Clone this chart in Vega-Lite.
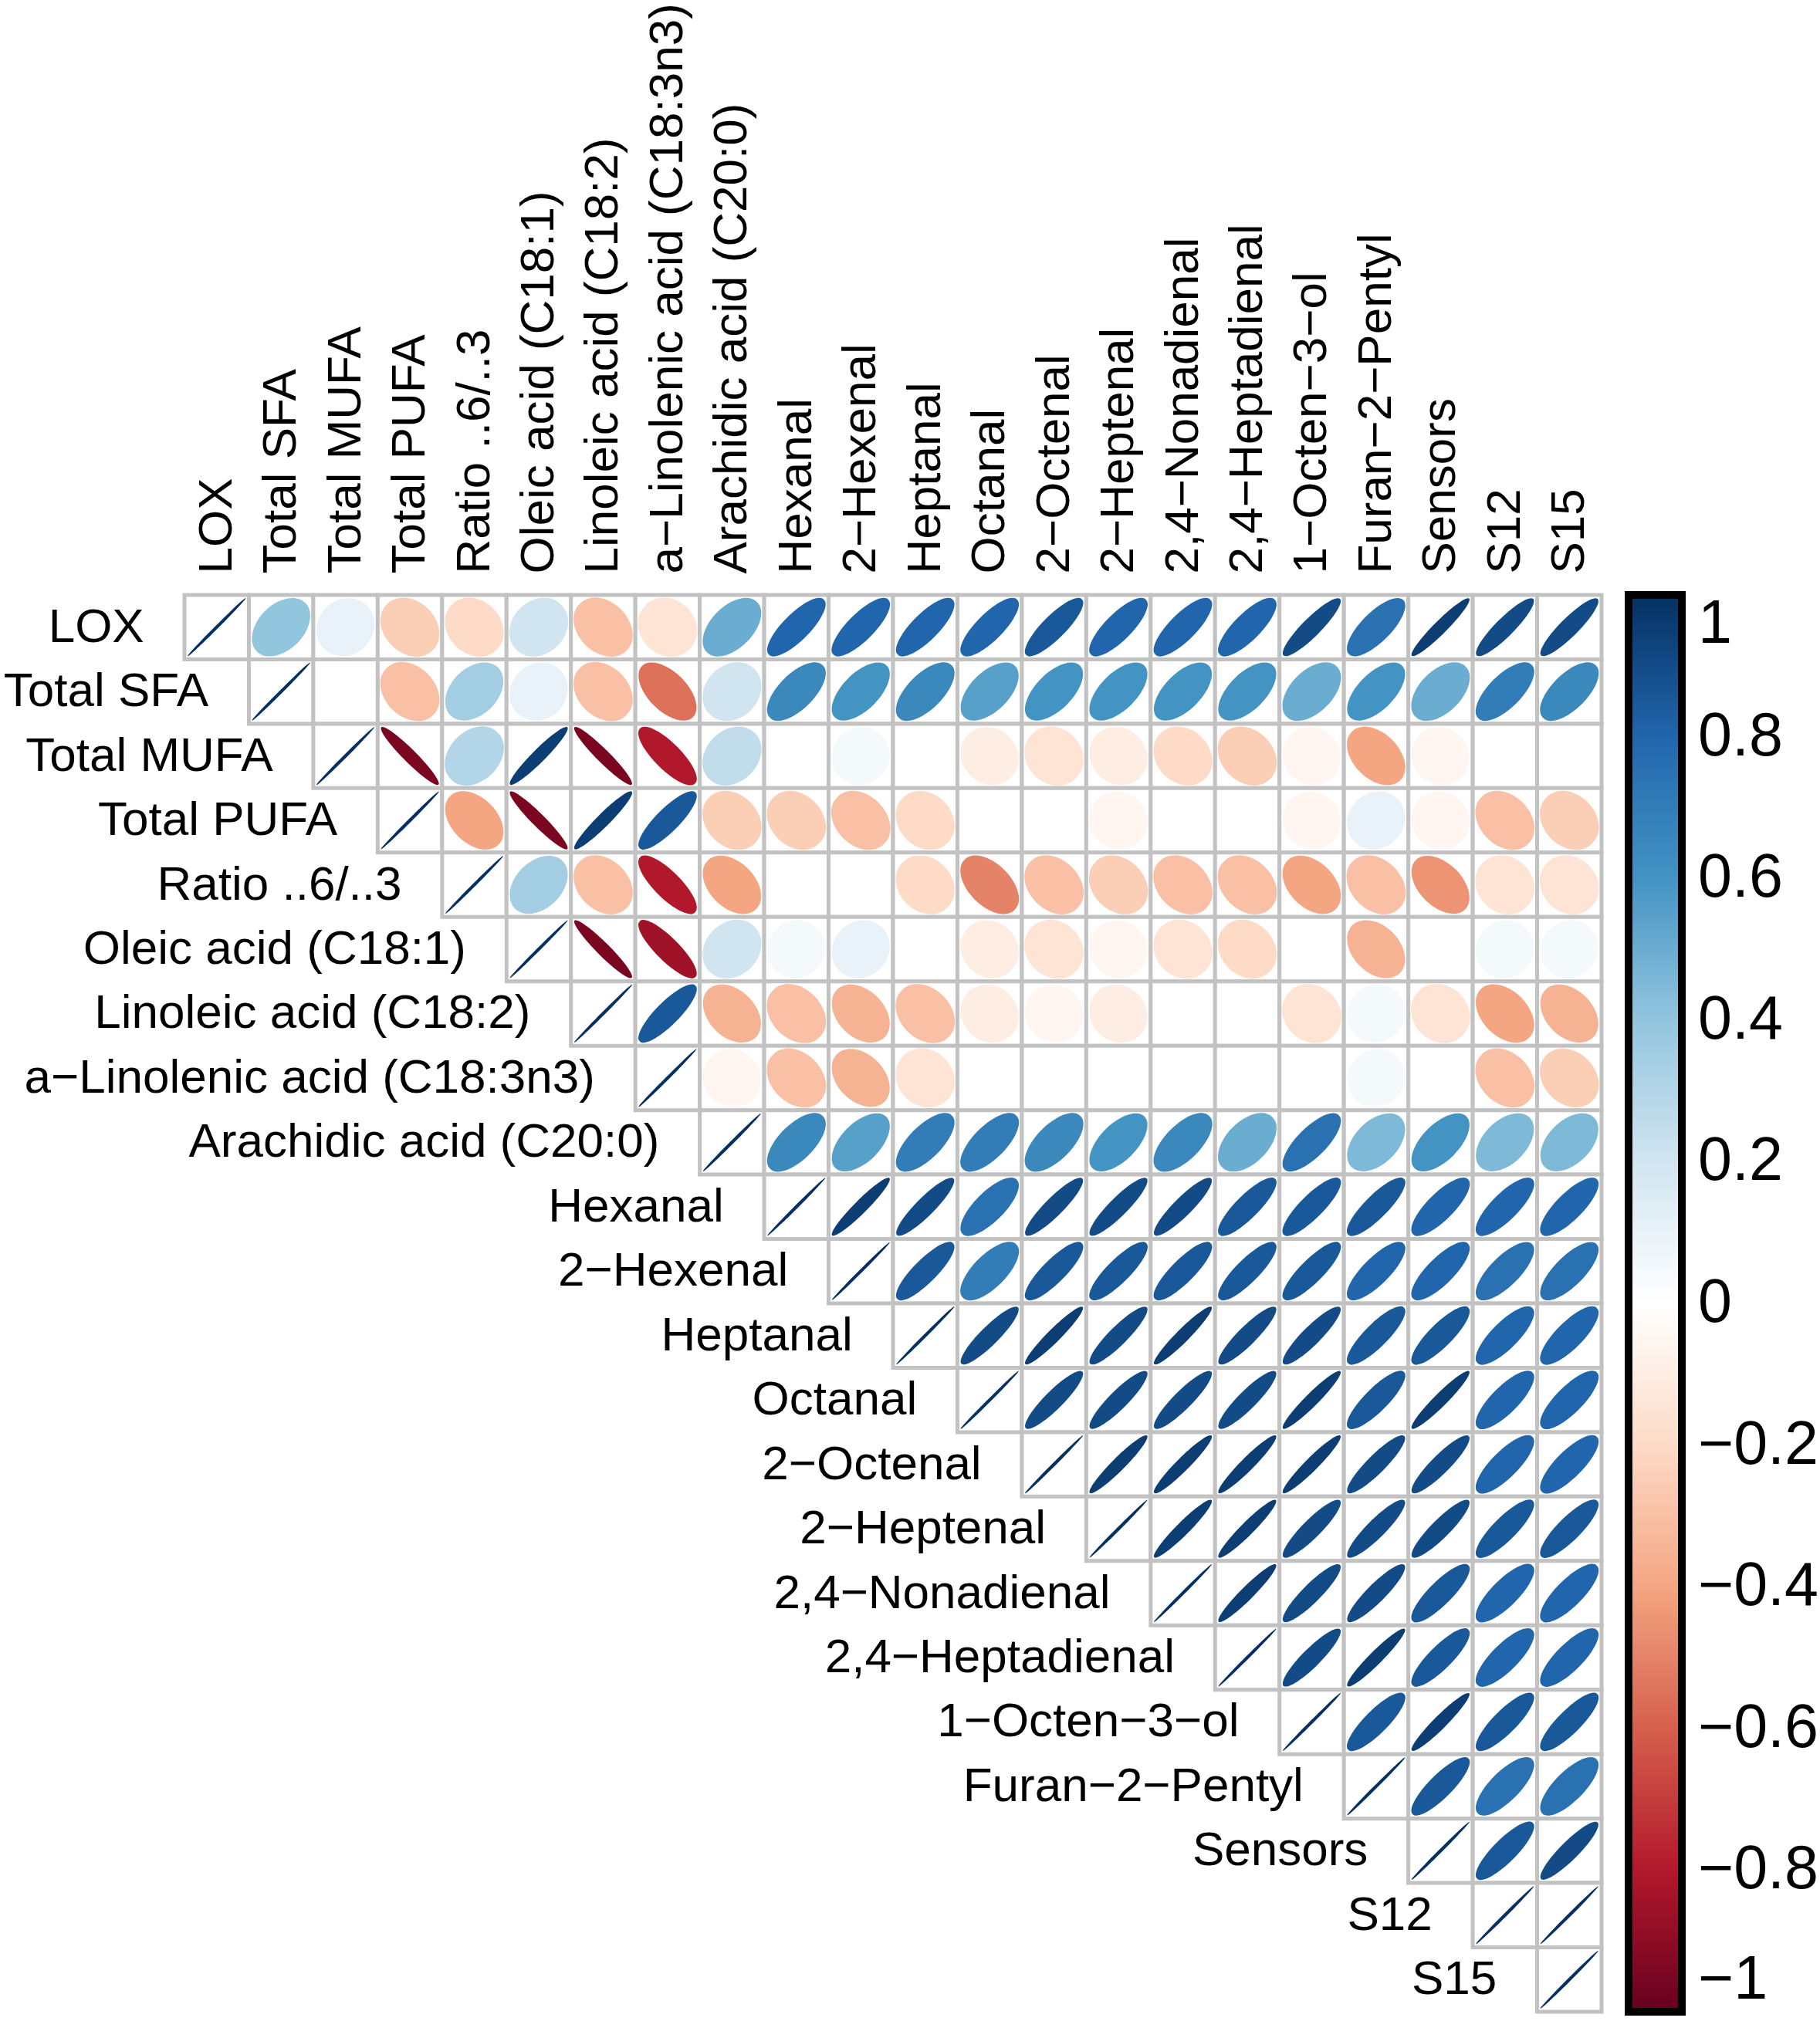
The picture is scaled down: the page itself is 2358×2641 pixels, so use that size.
{
"$schema": "https://vega.github.io/schema/vega-lite/v6.json",
"width": 1836, "height": 1836,
"autosize": {"type": "none"},
"padding": {"left": 239, "top": 771, "right": 283, "bottom": 34},
"background": "white",
"config": {"view": {"stroke": null}, "font": "Liberation Sans"},
"data": {"values": [
{"a":"LOX","b":"LOX","r":1},{"a":"LOX","b":"Total SFA","r":0.4},{"a":"LOX","b":"Total MUFA","r":0.1},{"a":"LOX","b":"Total PUFA","r":-0.25},{"a":"LOX","b":"Ratio ..6/..3","r":-0.2},{"a":"LOX","b":"Oleic acid (C18:1)","r":0.2},{"a":"LOX","b":"Linoleic acid (C18:2)","r":-0.3},{"a":"LOX","b":"a−Linolenic acid (C18:3n3)","r":-0.15},{"a":"LOX","b":"Arachidic acid (C20:0)","r":0.5},{"a":"LOX","b":"Hexanal","r":0.8},{"a":"LOX","b":"2−Hexenal","r":0.8},{"a":"LOX","b":"Heptanal","r":0.8},{"a":"LOX","b":"Octanal","r":0.8},{"a":"LOX","b":"2−Octenal","r":0.85},{"a":"LOX","b":"2−Heptenal","r":0.8},{"a":"LOX","b":"2,4−Nonadienal","r":0.8},{"a":"LOX","b":"2,4−Heptadienal","r":0.8},{"a":"LOX","b":"1−Octen−3−ol","r":0.9},{"a":"LOX","b":"Furan−2−Pentyl","r":0.75},{"a":"LOX","b":"Sensors","r":0.95},{"a":"LOX","b":"S12","r":0.9},{"a":"LOX","b":"S15","r":0.9},
{"a":"Total SFA","b":"Total SFA","r":1},{"a":"Total SFA","b":"Total MUFA","r":0},{"a":"Total SFA","b":"Total PUFA","r":-0.3},{"a":"Total SFA","b":"Ratio ..6/..3","r":0.35},{"a":"Total SFA","b":"Oleic acid (C18:1)","r":0.1},{"a":"Total SFA","b":"Linoleic acid (C18:2)","r":-0.3},{"a":"Total SFA","b":"a−Linolenic acid (C18:3n3)","r":-0.55},{"a":"Total SFA","b":"Arachidic acid (C20:0)","r":0.2},{"a":"Total SFA","b":"Hexanal","r":0.65},{"a":"Total SFA","b":"2−Hexenal","r":0.6},{"a":"Total SFA","b":"Heptanal","r":0.65},{"a":"Total SFA","b":"Octanal","r":0.55},{"a":"Total SFA","b":"2−Octenal","r":0.6},{"a":"Total SFA","b":"2−Heptenal","r":0.6},{"a":"Total SFA","b":"2,4−Nonadienal","r":0.6},{"a":"Total SFA","b":"2,4−Heptadienal","r":0.6},{"a":"Total SFA","b":"1−Octen−3−ol","r":0.5},{"a":"Total SFA","b":"Furan−2−Pentyl","r":0.6},{"a":"Total SFA","b":"Sensors","r":0.5},{"a":"Total SFA","b":"S12","r":0.7},{"a":"Total SFA","b":"S15","r":0.65},
{"a":"Total MUFA","b":"Total MUFA","r":1},{"a":"Total MUFA","b":"Total PUFA","r":-0.95},{"a":"Total MUFA","b":"Ratio ..6/..3","r":0.3},{"a":"Total MUFA","b":"Oleic acid (C18:1)","r":0.95},{"a":"Total MUFA","b":"Linoleic acid (C18:2)","r":-0.95},{"a":"Total MUFA","b":"a−Linolenic acid (C18:3n3)","r":-0.8},{"a":"Total MUFA","b":"Arachidic acid (C20:0)","r":0.25},{"a":"Total MUFA","b":"Hexanal","r":0},{"a":"Total MUFA","b":"2−Hexenal","r":0.05},{"a":"Total MUFA","b":"Heptanal","r":0},{"a":"Total MUFA","b":"Octanal","r":-0.1},{"a":"Total MUFA","b":"2−Octenal","r":-0.15},{"a":"Total MUFA","b":"2−Heptenal","r":-0.1},{"a":"Total MUFA","b":"2,4−Nonadienal","r":-0.2},{"a":"Total MUFA","b":"2,4−Heptadienal","r":-0.25},{"a":"Total MUFA","b":"1−Octen−3−ol","r":-0.05},{"a":"Total MUFA","b":"Furan−2−Pentyl","r":-0.4},{"a":"Total MUFA","b":"Sensors","r":-0.05},{"a":"Total MUFA","b":"S12","r":0},{"a":"Total MUFA","b":"S15","r":0},
{"a":"Total PUFA","b":"Total PUFA","r":1},{"a":"Total PUFA","b":"Ratio ..6/..3","r":-0.4},{"a":"Total PUFA","b":"Oleic acid (C18:1)","r":-0.95},{"a":"Total PUFA","b":"Linoleic acid (C18:2)","r":0.95},{"a":"Total PUFA","b":"a−Linolenic acid (C18:3n3)","r":0.85},{"a":"Total PUFA","b":"Arachidic acid (C20:0)","r":-0.25},{"a":"Total PUFA","b":"Hexanal","r":-0.25},{"a":"Total PUFA","b":"2−Hexenal","r":-0.3},{"a":"Total PUFA","b":"Heptanal","r":-0.2},{"a":"Total PUFA","b":"Octanal","r":0},{"a":"Total PUFA","b":"2−Octenal","r":0},{"a":"Total PUFA","b":"2−Heptenal","r":-0.05},{"a":"Total PUFA","b":"2,4−Nonadienal","r":0},{"a":"Total PUFA","b":"2,4−Heptadienal","r":0},{"a":"Total PUFA","b":"1−Octen−3−ol","r":-0.05},{"a":"Total PUFA","b":"Furan−2−Pentyl","r":0.1},{"a":"Total PUFA","b":"Sensors","r":-0.05},{"a":"Total PUFA","b":"S12","r":-0.3},{"a":"Total PUFA","b":"S15","r":-0.25},
{"a":"Ratio ..6/..3","b":"Ratio ..6/..3","r":1},{"a":"Ratio ..6/..3","b":"Oleic acid (C18:1)","r":0.35},{"a":"Ratio ..6/..3","b":"Linoleic acid (C18:2)","r":-0.3},{"a":"Ratio ..6/..3","b":"a−Linolenic acid (C18:3n3)","r":-0.8},{"a":"Ratio ..6/..3","b":"Arachidic acid (C20:0)","r":-0.4},{"a":"Ratio ..6/..3","b":"Hexanal","r":0},{"a":"Ratio ..6/..3","b":"2−Hexenal","r":0},{"a":"Ratio ..6/..3","b":"Heptanal","r":-0.2},{"a":"Ratio ..6/..3","b":"Octanal","r":-0.5},{"a":"Ratio ..6/..3","b":"2−Octenal","r":-0.3},{"a":"Ratio ..6/..3","b":"2−Heptenal","r":-0.25},{"a":"Ratio ..6/..3","b":"2,4−Nonadienal","r":-0.3},{"a":"Ratio ..6/..3","b":"2,4−Heptadienal","r":-0.3},{"a":"Ratio ..6/..3","b":"1−Octen−3−ol","r":-0.4},{"a":"Ratio ..6/..3","b":"Furan−2−Pentyl","r":-0.3},{"a":"Ratio ..6/..3","b":"Sensors","r":-0.45},{"a":"Ratio ..6/..3","b":"S12","r":-0.15},{"a":"Ratio ..6/..3","b":"S15","r":-0.15},
{"a":"Oleic acid (C18:1)","b":"Oleic acid (C18:1)","r":1},{"a":"Oleic acid (C18:1)","b":"Linoleic acid (C18:2)","r":-0.95},{"a":"Oleic acid (C18:1)","b":"a−Linolenic acid (C18:3n3)","r":-0.85},{"a":"Oleic acid (C18:1)","b":"Arachidic acid (C20:0)","r":0.2},{"a":"Oleic acid (C18:1)","b":"Hexanal","r":0.05},{"a":"Oleic acid (C18:1)","b":"2−Hexenal","r":0.1},{"a":"Oleic acid (C18:1)","b":"Heptanal","r":0},{"a":"Oleic acid (C18:1)","b":"Octanal","r":-0.1},{"a":"Oleic acid (C18:1)","b":"2−Octenal","r":-0.15},{"a":"Oleic acid (C18:1)","b":"2−Heptenal","r":-0.05},{"a":"Oleic acid (C18:1)","b":"2,4−Nonadienal","r":-0.15},{"a":"Oleic acid (C18:1)","b":"2,4−Heptadienal","r":-0.2},{"a":"Oleic acid (C18:1)","b":"1−Octen−3−ol","r":0},{"a":"Oleic acid (C18:1)","b":"Furan−2−Pentyl","r":-0.35},{"a":"Oleic acid (C18:1)","b":"Sensors","r":0},{"a":"Oleic acid (C18:1)","b":"S12","r":0.05},{"a":"Oleic acid (C18:1)","b":"S15","r":0.05},
{"a":"Linoleic acid (C18:2)","b":"Linoleic acid (C18:2)","r":1},{"a":"Linoleic acid (C18:2)","b":"a−Linolenic acid (C18:3n3)","r":0.85},{"a":"Linoleic acid (C18:2)","b":"Arachidic acid (C20:0)","r":-0.35},{"a":"Linoleic acid (C18:2)","b":"Hexanal","r":-0.3},{"a":"Linoleic acid (C18:2)","b":"2−Hexenal","r":-0.35},{"a":"Linoleic acid (C18:2)","b":"Heptanal","r":-0.3},{"a":"Linoleic acid (C18:2)","b":"Octanal","r":-0.1},{"a":"Linoleic acid (C18:2)","b":"2−Octenal","r":-0.05},{"a":"Linoleic acid (C18:2)","b":"2−Heptenal","r":-0.1},{"a":"Linoleic acid (C18:2)","b":"2,4−Nonadienal","r":0},{"a":"Linoleic acid (C18:2)","b":"2,4−Heptadienal","r":0},{"a":"Linoleic acid (C18:2)","b":"1−Octen−3−ol","r":-0.15},{"a":"Linoleic acid (C18:2)","b":"Furan−2−Pentyl","r":0.05},{"a":"Linoleic acid (C18:2)","b":"Sensors","r":-0.15},{"a":"Linoleic acid (C18:2)","b":"S12","r":-0.4},{"a":"Linoleic acid (C18:2)","b":"S15","r":-0.35},
{"a":"a−Linolenic acid (C18:3n3)","b":"a−Linolenic acid (C18:3n3)","r":1},{"a":"a−Linolenic acid (C18:3n3)","b":"Arachidic acid (C20:0)","r":-0.05},{"a":"a−Linolenic acid (C18:3n3)","b":"Hexanal","r":-0.3},{"a":"a−Linolenic acid (C18:3n3)","b":"2−Hexenal","r":-0.35},{"a":"a−Linolenic acid (C18:3n3)","b":"Heptanal","r":-0.15},{"a":"a−Linolenic acid (C18:3n3)","b":"Octanal","r":0},{"a":"a−Linolenic acid (C18:3n3)","b":"2−Octenal","r":0},{"a":"a−Linolenic acid (C18:3n3)","b":"2−Heptenal","r":0},{"a":"a−Linolenic acid (C18:3n3)","b":"2,4−Nonadienal","r":0},{"a":"a−Linolenic acid (C18:3n3)","b":"2,4−Heptadienal","r":0},{"a":"a−Linolenic acid (C18:3n3)","b":"1−Octen−3−ol","r":0},{"a":"a−Linolenic acid (C18:3n3)","b":"Furan−2−Pentyl","r":0.05},{"a":"a−Linolenic acid (C18:3n3)","b":"Sensors","r":0},{"a":"a−Linolenic acid (C18:3n3)","b":"S12","r":-0.3},{"a":"a−Linolenic acid (C18:3n3)","b":"S15","r":-0.25},
{"a":"Arachidic acid (C20:0)","b":"Arachidic acid (C20:0)","r":1},{"a":"Arachidic acid (C20:0)","b":"Hexanal","r":0.65},{"a":"Arachidic acid (C20:0)","b":"2−Hexenal","r":0.55},{"a":"Arachidic acid (C20:0)","b":"Heptanal","r":0.7},{"a":"Arachidic acid (C20:0)","b":"Octanal","r":0.7},{"a":"Arachidic acid (C20:0)","b":"2−Octenal","r":0.65},{"a":"Arachidic acid (C20:0)","b":"2−Heptenal","r":0.6},{"a":"Arachidic acid (C20:0)","b":"2,4−Nonadienal","r":0.65},{"a":"Arachidic acid (C20:0)","b":"2,4−Heptadienal","r":0.5},{"a":"Arachidic acid (C20:0)","b":"1−Octen−3−ol","r":0.75},{"a":"Arachidic acid (C20:0)","b":"Furan−2−Pentyl","r":0.45},{"a":"Arachidic acid (C20:0)","b":"Sensors","r":0.6},{"a":"Arachidic acid (C20:0)","b":"S12","r":0.45},{"a":"Arachidic acid (C20:0)","b":"S15","r":0.45},
{"a":"Hexanal","b":"Hexanal","r":1},{"a":"Hexanal","b":"2−Hexenal","r":0.95},{"a":"Hexanal","b":"Heptanal","r":0.9},{"a":"Hexanal","b":"Octanal","r":0.75},{"a":"Hexanal","b":"2−Octenal","r":0.9},{"a":"Hexanal","b":"2−Heptenal","r":0.9},{"a":"Hexanal","b":"2,4−Nonadienal","r":0.9},{"a":"Hexanal","b":"2,4−Heptadienal","r":0.85},{"a":"Hexanal","b":"1−Octen−3−ol","r":0.85},{"a":"Hexanal","b":"Furan−2−Pentyl","r":0.85},{"a":"Hexanal","b":"Sensors","r":0.8},{"a":"Hexanal","b":"S12","r":0.8},{"a":"Hexanal","b":"S15","r":0.8},
{"a":"2−Hexenal","b":"2−Hexenal","r":1},{"a":"2−Hexenal","b":"Heptanal","r":0.85},{"a":"2−Hexenal","b":"Octanal","r":0.7},{"a":"2−Hexenal","b":"2−Octenal","r":0.85},{"a":"2−Hexenal","b":"2−Heptenal","r":0.85},{"a":"2−Hexenal","b":"2,4−Nonadienal","r":0.85},{"a":"2−Hexenal","b":"2,4−Heptadienal","r":0.85},{"a":"2−Hexenal","b":"1−Octen−3−ol","r":0.85},{"a":"2−Hexenal","b":"Furan−2−Pentyl","r":0.8},{"a":"2−Hexenal","b":"Sensors","r":0.8},{"a":"2−Hexenal","b":"S12","r":0.75},{"a":"2−Hexenal","b":"S15","r":0.75},
{"a":"Heptanal","b":"Heptanal","r":1},{"a":"Heptanal","b":"Octanal","r":0.9},{"a":"Heptanal","b":"2−Octenal","r":0.95},{"a":"Heptanal","b":"2−Heptenal","r":0.9},{"a":"Heptanal","b":"2,4−Nonadienal","r":0.95},{"a":"Heptanal","b":"2,4−Heptadienal","r":0.9},{"a":"Heptanal","b":"1−Octen−3−ol","r":0.9},{"a":"Heptanal","b":"Furan−2−Pentyl","r":0.85},{"a":"Heptanal","b":"Sensors","r":0.85},{"a":"Heptanal","b":"S12","r":0.8},{"a":"Heptanal","b":"S15","r":0.8},
{"a":"Octanal","b":"Octanal","r":1},{"a":"Octanal","b":"2−Octenal","r":0.9},{"a":"Octanal","b":"2−Heptenal","r":0.9},{"a":"Octanal","b":"2,4−Nonadienal","r":0.9},{"a":"Octanal","b":"2,4−Heptadienal","r":0.9},{"a":"Octanal","b":"1−Octen−3−ol","r":0.95},{"a":"Octanal","b":"Furan−2−Pentyl","r":0.85},{"a":"Octanal","b":"Sensors","r":0.95},{"a":"Octanal","b":"S12","r":0.8},{"a":"Octanal","b":"S15","r":0.8},
{"a":"2−Octenal","b":"2−Octenal","r":1},{"a":"2−Octenal","b":"2−Heptenal","r":0.95},{"a":"2−Octenal","b":"2,4−Nonadienal","r":0.95},{"a":"2−Octenal","b":"2,4−Heptadienal","r":0.95},{"a":"2−Octenal","b":"1−Octen−3−ol","r":0.95},{"a":"2−Octenal","b":"Furan−2−Pentyl","r":0.9},{"a":"2−Octenal","b":"Sensors","r":0.9},{"a":"2−Octenal","b":"S12","r":0.8},{"a":"2−Octenal","b":"S15","r":0.8},
{"a":"2−Heptenal","b":"2−Heptenal","r":1},{"a":"2−Heptenal","b":"2,4−Nonadienal","r":0.95},{"a":"2−Heptenal","b":"2,4−Heptadienal","r":0.95},{"a":"2−Heptenal","b":"1−Octen−3−ol","r":0.9},{"a":"2−Heptenal","b":"Furan−2−Pentyl","r":0.9},{"a":"2−Heptenal","b":"Sensors","r":0.9},{"a":"2−Heptenal","b":"S12","r":0.85},{"a":"2−Heptenal","b":"S15","r":0.85},
{"a":"2,4−Nonadienal","b":"2,4−Nonadienal","r":1},{"a":"2,4−Nonadienal","b":"2,4−Heptadienal","r":0.95},{"a":"2,4−Nonadienal","b":"1−Octen−3−ol","r":0.9},{"a":"2,4−Nonadienal","b":"Furan−2−Pentyl","r":0.9},{"a":"2,4−Nonadienal","b":"Sensors","r":0.85},{"a":"2,4−Nonadienal","b":"S12","r":0.8},{"a":"2,4−Nonadienal","b":"S15","r":0.8},
{"a":"2,4−Heptadienal","b":"2,4−Heptadienal","r":1},{"a":"2,4−Heptadienal","b":"1−Octen−3−ol","r":0.9},{"a":"2,4−Heptadienal","b":"Furan−2−Pentyl","r":0.95},{"a":"2,4−Heptadienal","b":"Sensors","r":0.85},{"a":"2,4−Heptadienal","b":"S12","r":0.8},{"a":"2,4−Heptadienal","b":"S15","r":0.8},
{"a":"1−Octen−3−ol","b":"1−Octen−3−ol","r":1},{"a":"1−Octen−3−ol","b":"Furan−2−Pentyl","r":0.85},{"a":"1−Octen−3−ol","b":"Sensors","r":0.95},{"a":"1−Octen−3−ol","b":"S12","r":0.85},{"a":"1−Octen−3−ol","b":"S15","r":0.85},
{"a":"Furan−2−Pentyl","b":"Furan−2−Pentyl","r":1},{"a":"Furan−2−Pentyl","b":"Sensors","r":0.85},{"a":"Furan−2−Pentyl","b":"S12","r":0.75},{"a":"Furan−2−Pentyl","b":"S15","r":0.75},
{"a":"Sensors","b":"Sensors","r":1},{"a":"Sensors","b":"S12","r":0.85},{"a":"Sensors","b":"S15","r":0.9},
{"a":"S12","b":"S12","r":1},{"a":"S12","b":"S15","r":1},
{"a":"S15","b":"S15","r":1}
]},
"encoding": {
  "x": {"field": "b", "type": "nominal",
    "scale": {"domain": ["LOX","Total SFA","Total MUFA","Total PUFA","Ratio ..6/..3","Oleic acid (C18:1)","Linoleic acid (C18:2)","a−Linolenic acid (C18:3n3)","Arachidic acid (C20:0)","Hexanal","2−Hexenal","Heptanal","Octanal","2−Octenal","2−Heptenal","2,4−Nonadienal","2,4−Heptadienal","1−Octen−3−ol","Furan−2−Pentyl","Sensors","S12","S15"], "paddingInner": 0, "paddingOuter": 0},
    "axis": {"orient": "top", "title": null, "labelAngle": 270, "labelAlign": "left", "labelBaseline": "middle", "labelFontSize": 62, "labelFont": "Liberation Sans", "labelColor": "black", "labelPadding": 28, "ticks": false, "domain": false, "grid": false, "labelLimit": 0}},
  "y": {"field": "a", "type": "nominal",
    "scale": {"domain": ["LOX","Total SFA","Total MUFA","Total PUFA","Ratio ..6/..3","Oleic acid (C18:1)","Linoleic acid (C18:2)","a−Linolenic acid (C18:3n3)","Arachidic acid (C20:0)","Hexanal","2−Hexenal","Heptanal","Octanal","2−Octenal","2−Heptenal","2,4−Nonadienal","2,4−Heptadienal","1−Octen−3−ol","Furan−2−Pentyl","Sensors","S12","S15"], "paddingInner": 0, "paddingOuter": 0},
    "axis": null}
},
"layer": [
  {"mark": {"type": "rect", "fill": "white", "stroke": "#c2c2c2", "strokeWidth": 5}},
  {"mark": {"type": "point", "filled": true, "opacity": 1, "size": 6964, "strokeWidth": 0},
   "encoding": {
     "color": {"field": "r", "type": "quantitative",
       "scale": {"type": "linear", "domain": [-1,-0.8,-0.6,-0.4,-0.2,0,0.2,0.4,0.6,0.8,1], "range": ["#67001F","#B2182B","#D6604D","#F4A582","#FDDBC7","#FFFFFF","#D1E5F0","#92C5DE","#4393C3","#2166AC","#053061"], "interpolate": "rgb"},
       "legend": {"orient": "none", "legendX": 1871, "legendY": 0, "direction": "vertical", "title": null, "padding": 0,
         "gradientLength": 1836, "gradientThickness": 69, "gradientStrokeColor": "black", "gradientStrokeWidth": 10,
         "values": [1,0.8,0.6,0.4,0.2,0,-0.2,-0.4,-0.6,-0.8,-1], "format": ".1~f", "labelOverlap": false,
         "labelExpr": "datum.value == 1 || datum.value == 0 ? '\u00a0\u00a0' + datum.label : datum.label",
         "labelFontSize": 79, "labelFont": "Liberation Sans", "labelColor": "black", "labelOffset": 21}},
     "shape": {"field": "r", "type": "nominal", "legend": null,
       "scale": {"domain": [-1,-0.95,-0.9,-0.85,-0.8,-0.75,-0.7,-0.65,-0.6,-0.55,-0.5,-0.45,-0.4,-0.35,-0.3,-0.25,-0.2,-0.15,-0.1,-0.05,0,0.05,0.1,0.15,0.2,0.25,0.3,0.35,0.4,0.45,0.5,0.55,0.6,0.65,0.7,0.75,0.8,0.85,0.9,0.95,1],
       "range": [
"M -0.9 -0.9 A 1.273 0.05 45 1 1 0.9 0.9 A 1.273 0.05 45 1 1 -0.9 -0.9 Z",
"M -0.889 -0.889 A 1.257 0.201 45 1 1 0.889 0.889 A 1.257 0.201 45 1 1 -0.889 -0.889 Z",
"M -0.878 -0.878 A 1.241 0.285 45 1 1 0.878 0.878 A 1.241 0.285 45 1 1 -0.878 -0.878 Z",
"M -0.865 -0.865 A 1.224 0.349 45 1 1 0.865 0.865 A 1.224 0.349 45 1 1 -0.865 -0.865 Z",
"M -0.853 -0.853 A 1.207 0.402 45 1 1 0.853 0.853 A 1.207 0.402 45 1 1 -0.853 -0.853 Z",
"M -0.842 -0.842 A 1.191 0.45 45 1 1 0.842 0.842 A 1.191 0.45 45 1 1 -0.842 -0.842 Z",
"M -0.829 -0.829 A 1.173 0.493 45 1 1 0.829 0.829 A 1.173 0.493 45 1 1 -0.829 -0.829 Z",
"M -0.817 -0.817 A 1.156 0.532 45 1 1 0.817 0.817 A 1.156 0.532 45 1 1 -0.817 -0.817 Z",
"M -0.805 -0.805 A 1.138 0.569 45 1 1 0.805 0.805 A 1.138 0.569 45 1 1 -0.805 -0.805 Z",
"M -0.793 -0.793 A 1.121 0.604 45 1 1 0.793 0.793 A 1.121 0.604 45 1 1 -0.793 -0.793 Z",
"M -0.779 -0.779 A 1.102 0.636 45 1 1 0.779 0.779 A 1.102 0.636 45 1 1 -0.779 -0.779 Z",
"M -0.767 -0.767 A 1.084 0.667 45 1 1 0.767 0.767 A 1.084 0.667 45 1 1 -0.767 -0.767 Z",
"M -0.753 -0.753 A 1.065 0.697 45 1 1 0.753 0.753 A 1.065 0.697 45 1 1 -0.753 -0.753 Z",
"M -0.74 -0.74 A 1.046 0.726 45 1 1 0.74 0.74 A 1.046 0.726 45 1 1 -0.74 -0.74 Z",
"M -0.725 -0.725 A 1.026 0.753 45 1 1 0.725 0.725 A 1.026 0.753 45 1 1 -0.725 -0.725 Z",
"M -0.711 -0.711 A 1.006 0.779 45 1 1 0.711 0.711 A 1.006 0.779 45 1 1 -0.711 -0.711 Z",
"M -0.697 -0.697 A 0.986 0.805 45 1 1 0.697 0.697 A 0.986 0.805 45 1 1 -0.697 -0.697 Z",
"M -0.682 -0.682 A 0.965 0.83 45 1 1 0.682 0.682 A 0.965 0.83 45 1 1 -0.682 -0.682 Z",
"M -0.668 -0.668 A 0.944 0.854 45 1 1 0.668 0.668 A 0.944 0.854 45 1 1 -0.668 -0.668 Z",
"M -0.652 -0.652 A 0.922 0.877 45 1 1 0.652 0.652 A 0.922 0.877 45 1 1 -0.652 -0.652 Z",
"M -0.9 0 A 0.9 0.9 0 1 1 0.9 0 A 0.9 0.9 0 1 1 -0.9 0 Z",
"M -0.652 0.652 A 0.922 0.877 -45 1 1 0.652 -0.652 A 0.922 0.877 -45 1 1 -0.652 0.652 Z",
"M -0.668 0.668 A 0.944 0.854 -45 1 1 0.668 -0.668 A 0.944 0.854 -45 1 1 -0.668 0.668 Z",
"M -0.682 0.682 A 0.965 0.83 -45 1 1 0.682 -0.682 A 0.965 0.83 -45 1 1 -0.682 0.682 Z",
"M -0.697 0.697 A 0.986 0.805 -45 1 1 0.697 -0.697 A 0.986 0.805 -45 1 1 -0.697 0.697 Z",
"M -0.711 0.711 A 1.006 0.779 -45 1 1 0.711 -0.711 A 1.006 0.779 -45 1 1 -0.711 0.711 Z",
"M -0.725 0.725 A 1.026 0.753 -45 1 1 0.725 -0.725 A 1.026 0.753 -45 1 1 -0.725 0.725 Z",
"M -0.74 0.74 A 1.046 0.726 -45 1 1 0.74 -0.74 A 1.046 0.726 -45 1 1 -0.74 0.74 Z",
"M -0.753 0.753 A 1.065 0.697 -45 1 1 0.753 -0.753 A 1.065 0.697 -45 1 1 -0.753 0.753 Z",
"M -0.767 0.767 A 1.084 0.667 -45 1 1 0.767 -0.767 A 1.084 0.667 -45 1 1 -0.767 0.767 Z",
"M -0.779 0.779 A 1.102 0.636 -45 1 1 0.779 -0.779 A 1.102 0.636 -45 1 1 -0.779 0.779 Z",
"M -0.793 0.793 A 1.121 0.604 -45 1 1 0.793 -0.793 A 1.121 0.604 -45 1 1 -0.793 0.793 Z",
"M -0.805 0.805 A 1.138 0.569 -45 1 1 0.805 -0.805 A 1.138 0.569 -45 1 1 -0.805 0.805 Z",
"M -0.817 0.817 A 1.156 0.532 -45 1 1 0.817 -0.817 A 1.156 0.532 -45 1 1 -0.817 0.817 Z",
"M -0.829 0.829 A 1.173 0.493 -45 1 1 0.829 -0.829 A 1.173 0.493 -45 1 1 -0.829 0.829 Z",
"M -0.842 0.842 A 1.191 0.45 -45 1 1 0.842 -0.842 A 1.191 0.45 -45 1 1 -0.842 0.842 Z",
"M -0.853 0.853 A 1.207 0.402 -45 1 1 0.853 -0.853 A 1.207 0.402 -45 1 1 -0.853 0.853 Z",
"M -0.865 0.865 A 1.224 0.349 -45 1 1 0.865 -0.865 A 1.224 0.349 -45 1 1 -0.865 0.865 Z",
"M -0.878 0.878 A 1.241 0.285 -45 1 1 0.878 -0.878 A 1.241 0.285 -45 1 1 -0.878 0.878 Z",
"M -0.889 0.889 A 1.257 0.201 -45 1 1 0.889 -0.889 A 1.257 0.201 -45 1 1 -0.889 0.889 Z",
"M -0.9 0.9 A 1.273 0.05 -45 1 1 0.9 -0.9 A 1.273 0.05 -45 1 1 -0.9 0.9 Z"
       ]}}
   }},
  {"transform": [{"filter": "datum.a === datum.b"}],
   "mark": {"type": "text", "align": "right", "baseline": "middle", "dx": -94, "fontSize": 62, "font": "Liberation Sans", "color": "black"},
   "encoding": {"text": {"field": "a", "type": "nominal"}}}
]
}
